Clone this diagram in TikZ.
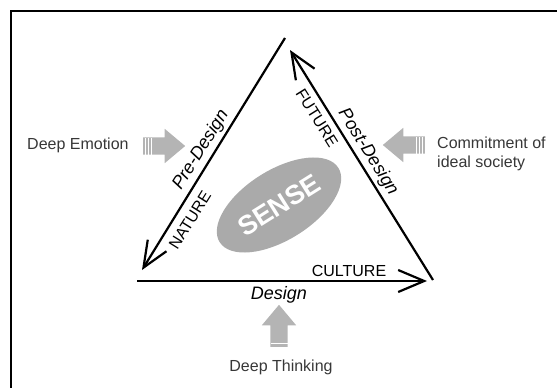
\documentclass[tikz,border=0pt]{standalone}
\usepackage{fontspec}
\setmainfont{Liberation Sans}
\usetikzlibrary{arrows.meta,shapes.arrows,shapes.geometric,calc}

\definecolor{arrowgray}{RGB}{180,180,180}
\definecolor{blobgray}{RGB}{170,170,170}
\definecolor{textgray}{RGB}{55,55,55}

\begin{document}
\begin{tikzpicture}[x=1pt, y=-1pt,
    blockarrow/.style={single arrow, fill=arrowgray, draw=none, inner xsep=0pt, inner ysep=8.5pt,
        minimum height=42pt, minimum width=0pt, single arrow head extend=8.5pt,
        single arrow tip angle=80},
    stripe/.style={white, line width=0.9pt},
    triside/.style={line width=2.2pt, -{Straight Barb[length=26pt,width=22pt]}},
    caps/.style={font=\fontsize{16}{19}\selectfont, inner sep=0pt},
    phase/.style={font=\fontsize{18}{21}\selectfont\itshape, inner sep=0pt},
    drive/.style={font=\fontsize{16}{19}\selectfont, text=textgray, inner sep=0pt, align=left}]
    \useasboundingbox (0,0) rectangle (557,388);
    \draw[line width=2pt] (11,388) -- (11,11) -- (557,11);

    \coordinate (topl) at (285,38);
    \coordinate (topr) at (290,50);
    \coordinate (lowl) at (142,270);
    \coordinate (basel) at (137,281);
    \coordinate (baser) at (427,281);
    \coordinate (lowr) at (433,280);
    \draw[triside] (topl) -- (lowl);
    \draw[triside] (basel) -- (baser);
    \draw[triside] (lowr) -- (topr);

    \node[ellipse, fill=blobgray, minimum width=140pt, minimum height=70pt, inner sep=0pt,
        rotate=32, text=white, font=\fontsize{27}{30}\selectfont\bfseries] (sense) at (279,205) {SENSE};

    \node[phase, rotate=58] (predesign) at (201,150) {Pre-Design};
    \node[caps, rotate=58] (nature) at (190,220) {NATURE};
    \node[caps, rotate=-58] (future) at (317,118) {FUTURE};
    \node[phase, rotate=-58] (postdesign) at (368,152) {Post-Design};
    \node[caps] (culture) at (349,271) {CULTURE};
    \node[phase] (design) at (279,295) {Design};

    \node[drive, anchor=west] (emotion) at (27,145) {Deep Emotion};
    \node[drive, anchor=west] (ideal) at (437,154) {Commitment of\\ideal society};
    \node[drive] (thinking) at (281,367) {Deep Thinking};

    \node[blockarrow] (emoarrow) at (159,146) {};
    \node[blockarrow, shape border rotate=180] (idealarrow) at (409,145) {};
    \node[blockarrow, shape border rotate=90, inner xsep=8.5pt, inner ysep=0pt] (thinkarrow) at (279,331) {};
    \foreach \s in {2.5,5.5,8.5} {
        \draw[stripe] ($(emoarrow.tail)+(\s pt,-8.5pt)$) -- ++(0,17pt);
        \draw[stripe] ($(idealarrow.tail)+(-\s pt,-8.5pt)$) -- ++(0,17pt);
    }
    \draw[stripe] ($(thinkarrow.tail)+(-8.5pt,4pt)$) -- ++(17pt,0);
\end{tikzpicture}
\end{document}
